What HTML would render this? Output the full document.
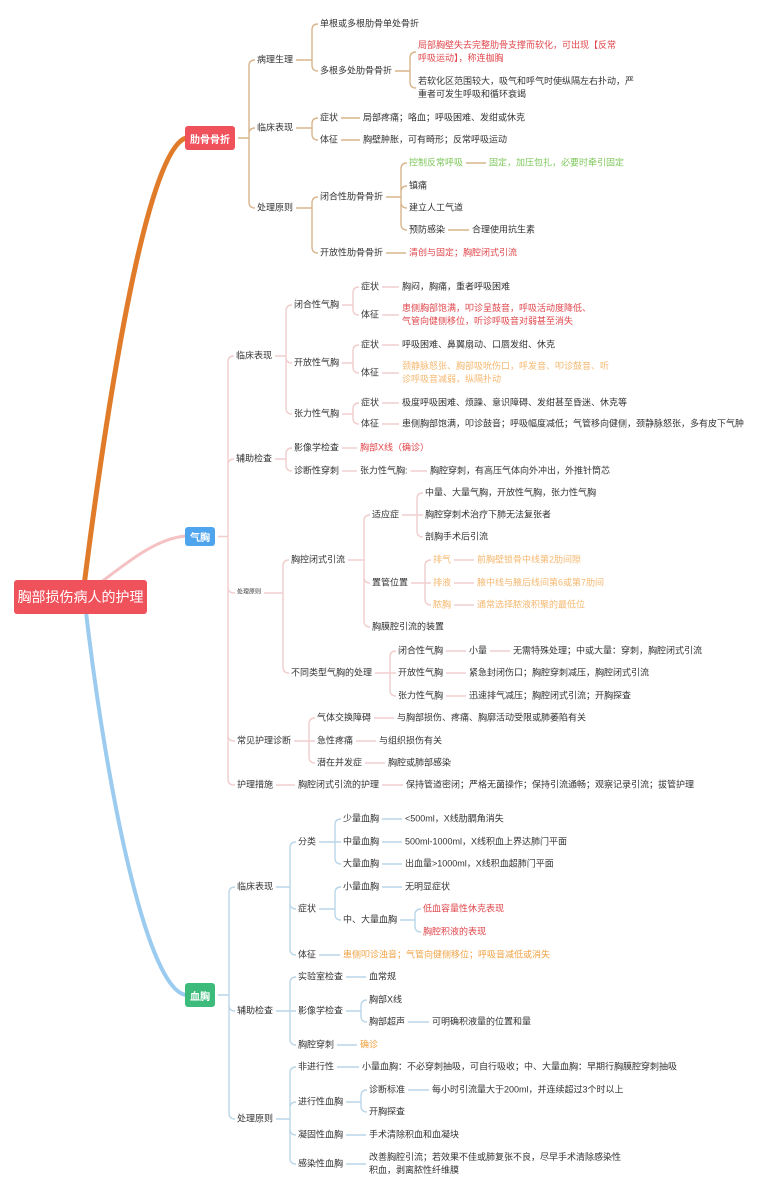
<!DOCTYPE html>
<html><head><meta charset="utf-8">
<style>
html,body{margin:0;padding:0;background:#fff;}
#c{position:relative;width:777px;height:1195px;overflow:hidden;font-family:"Liberation Sans","Noto Sans CJK SC",sans-serif;}
.n{position:absolute;transform:translateY(-50%);font-size:9px;line-height:13px;color:#333;white-space:nowrap;}
.red{color:#e0474c}.grn{color:#7ec75a}.org{color:#f0a346}.lorg{color:#f4b870}
.box{position:absolute;color:#fff;font-weight:bold;font-size:10px;display:flex;align-items:center;justify-content:center;border-radius:3px;white-space:nowrap;}
svg{position:absolute;left:0;top:0;}
</style></head><body>
<div id="c">
<svg id="s" width="777" height="1195">
<path d="M84,586 C105,420 145,150 186,138" stroke="#e07b2a" stroke-width="5" fill="none" stroke-linecap="round"/>
<path d="M100,583 C130,560 158,538 186,536" stroke="#f5c1c3" stroke-width="3" fill="none" stroke-linecap="round"/>
<path d="M86,612 C108,800 148,990 186,995" stroke="#9ccbf0" stroke-width="4" fill="none" stroke-linecap="round"/>
</svg>
<div class="box" style="left:14px;top:580px;width:133px;height:34px;background:#f0525c;font-size:14px;font-weight:normal;">胸部损伤病人的护理</div>

<div class="box" id="r0" style="left:185px;top:126px;width:50px;height:24px;background:#f0525c;">肋骨骨折</div>
<div class="n" id="r1" p="r0" style="left:257px;top:60px">病理生理</div>
<div class="n" id="r11" p="r1" style="left:320px;top:24px">单根或多根肋骨单处骨折</div>
<div class="n" id="r12" p="r1" style="left:320px;top:71px">多根多处肋骨骨折</div>
<div class="n red" id="r121" p="r12" style="left:418px;top:52px">局部胸壁失去完整肋骨支撑而软化，可出现【反常<br>呼吸运动】，称连枷胸</div>
<div class="n" id="r122" p="r12" style="left:418px;top:88px">若软化区范围较大，吸气和呼气时使纵隔左右扑动，严<br>重者可发生呼吸和循环衰竭</div>
<div class="n" id="r2" p="r0" style="left:257px;top:128px">临床表现</div>
<div class="n" id="r21" p="r2" style="left:320px;top:118px">症状</div>
<div class="n" id="r211" p="r21" style="left:363px;top:118px">局部疼痛；咯血；呼吸困难、发绀或休克</div>
<div class="n" id="r22" p="r2" style="left:320px;top:140px">体征</div>
<div class="n" id="r221" p="r22" style="left:363px;top:140px">胸壁肿胀，可有畸形；反常呼吸运动</div>
<div class="n" id="r3" p="r0" style="left:257px;top:208px">处理原则</div>
<div class="n" id="r31" p="r3" style="left:320px;top:197px">闭合性肋骨骨折</div>
<div class="n grn" id="r311" p="r31" style="left:409px;top:163px">控制反常呼吸</div>
<div class="n grn" id="r3111" p="r311" style="left:489px;top:163px">固定，加压包扎，必要时牵引固定</div>
<div class="n" id="r312" p="r31" style="left:409px;top:186px">镇痛</div>
<div class="n" id="r313" p="r31" style="left:409px;top:208px">建立人工气道</div>
<div class="n" id="r314" p="r31" style="left:409px;top:230px">预防感染</div>
<div class="n" id="r3141" p="r314" style="left:472px;top:230px">合理使用抗生素</div>
<div class="n" id="r32" p="r3" style="left:320px;top:253px">开放性肋骨骨折</div>
<div class="n red" id="r321" p="r32" style="left:409px;top:253px">清创与固定；胸腔闭式引流</div>

<div class="box" id="q0" style="left:185px;top:527px;width:30px;height:19px;background:#4fa4ee;">气胸</div>
<div class="n" id="q1" p="q0" style="left:236px;top:356px">临床表现</div>
<div class="n" id="q11" p="q1" style="left:294px;top:305px">闭合性气胸</div>
<div class="n" id="q111" p="q11" style="left:361px;top:287px">症状</div>
<div class="n" id="q1111" p="q111" style="left:402px;top:287px">胸闷，胸痛，重者呼吸困难</div>
<div class="n" id="q112" p="q11" style="left:361px;top:315px">体征</div>
<div class="n red" id="q1121" p="q112" style="left:402px;top:315px">患侧胸部饱满，叩诊呈鼓音，呼吸活动度降低、<br>气管向健侧移位，听诊呼吸音对弱甚至消失</div>
<div class="n" id="q12" p="q1" style="left:294px;top:363px">开放性气胸</div>
<div class="n" id="q121" p="q12" style="left:361px;top:345px">症状</div>
<div class="n" id="q1211" p="q121" style="left:402px;top:345px">呼吸困难、鼻翼扇动、口唇发绀、休克</div>
<div class="n" id="q122" p="q12" style="left:361px;top:373px">体征</div>
<div class="n lorg" id="q1221" p="q122" style="left:402px;top:373px">颈静脉怒张、胸部吸吮伤口，呼发音、叩诊鼓音、听<br>诊呼吸音减弱，纵隔扑动</div>
<div class="n" id="q13" p="q1" style="left:294px;top:414px">张力性气胸</div>
<div class="n" id="q131" p="q13" style="left:361px;top:403px">症状</div>
<div class="n" id="q1311" p="q131" style="left:402px;top:403px">极度呼吸困难、烦躁、意识障碍、发绀甚至昏迷、休克等</div>
<div class="n" id="q132" p="q13" style="left:361px;top:424px">体征</div>
<div class="n" id="q1321" p="q132" style="left:402px;top:424px">患侧胸部饱满，叩诊鼓音；呼吸幅度减低；气管移向健侧，颈静脉怒张，多有皮下气肿</div>
<div class="n" id="q2" p="q0" style="left:236px;top:459px">辅助检查</div>
<div class="n" id="q21" p="q2" style="left:294px;top:448px">影像学检查</div>
<div class="n red" id="q211" p="q21" style="left:360px;top:448px">胸部X线（确诊）</div>
<div class="n" id="q22" p="q2" style="left:294px;top:471px">诊断性穿刺</div>
<div class="n" id="q221" p="q22" style="left:360px;top:471px">张力性气胸:</div>
<div class="n" id="q2211" p="q221" style="left:430px;top:471px">胸腔穿刺，有高压气体向外冲出，外推针筒芯</div>
<div class="n" id="q3" p="q0" style="left:237px;top:593px;font-size:6px">处理原则</div>
<div class="n" id="q31" p="q3" style="left:291px;top:560px">胸控闭式引流</div>
<div class="n" id="q311" p="q31" style="left:372px;top:515px">适应症</div>
<div class="n" id="q3111" p="q311" style="left:425px;top:493px">中量、大量气胸，开放性气胸，张力性气胸</div>
<div class="n" id="q3112" p="q311" style="left:425px;top:515px">胸腔穿刺术治疗下肺无法复张者</div>
<div class="n" id="q3113" p="q311" style="left:425px;top:537px">剖胸手术后引流</div>
<div class="n" id="q312" p="q31" style="left:372px;top:583px">置管位置</div>
<div class="n lorg" id="q3121" p="q312" style="left:433px;top:560px">排气</div>
<div class="n lorg" id="q31211" p="q3121" style="left:477px;top:560px">前胸壁锁骨中线第2肋间隙</div>
<div class="n lorg" id="q3122" p="q312" style="left:433px;top:583px">排液</div>
<div class="n lorg" id="q31221" p="q3122" style="left:477px;top:583px">腋中线与腋后线间第6或第7肋间</div>
<div class="n lorg" id="q3123" p="q312" style="left:433px;top:605px">脓胸</div>
<div class="n lorg" id="q31231" p="q3123" style="left:477px;top:605px">通常选择脓液积聚的最低位</div>
<div class="n" id="q313" p="q31" style="left:372px;top:627px">胸膜腔引流的装置</div>
<div class="n" id="q32" p="q3" style="left:291px;top:673px">不同类型气胸的处理</div>
<div class="n" id="q321" p="q32" style="left:398px;top:651px">闭合性气胸</div>
<div class="n" id="q3211" p="q321" style="left:469px;top:651px">小量</div>
<div class="n" id="q32111" p="q3211" style="left:513px;top:651px">无需特殊处理；中或大量：穿刺，胸腔闭式引流</div>
<div class="n" id="q322" p="q32" style="left:398px;top:673px">开放性气胸</div>
<div class="n" id="q3221" p="q322" style="left:469px;top:673px">紧急封闭伤口；胸腔穿刺减压，胸腔闭式引流</div>
<div class="n" id="q323" p="q32" style="left:398px;top:696px">张力性气胸</div>
<div class="n" id="q3231" p="q323" style="left:469px;top:696px">迅速排气减压；胸腔闭式引流；开胸探查</div>
<div class="n" id="q4" p="q0" style="left:237px;top:741px">常见护理诊断</div>
<div class="n" id="q41" p="q4" style="left:317px;top:718px">气体交换障碍</div>
<div class="n" id="q411" p="q41" style="left:397px;top:718px">与胸部损伤、疼痛、胸廓活动受限或肺萎陷有关</div>
<div class="n" id="q42" p="q4" style="left:317px;top:741px">急性疼痛</div>
<div class="n" id="q421" p="q42" style="left:379px;top:741px">与组织损伤有关</div>
<div class="n" id="q43" p="q4" style="left:317px;top:763px">潜在并发症</div>
<div class="n" id="q431" p="q43" style="left:388px;top:763px">胸腔或肺部感染</div>
<div class="n" id="q5" p="q0" style="left:237px;top:785px">护理措施</div>
<div class="n" id="q51" p="q5" style="left:298px;top:785px">胸腔闭式引流的护理</div>
<div class="n" id="q511" p="q51" style="left:406px;top:785px">保持管道密闭；严格无菌操作；保持引流通畅；观察记录引流；拔管护理</div>

<div class="box" id="b0" style="left:185px;top:983px;width:30px;height:24px;background:#3dbb7b;">血胸</div>
<div class="n" id="b1" p="b0" style="left:237px;top:887px">临床表现</div>
<div class="n" id="b11" p="b1" style="left:298px;top:842px">分类</div>
<div class="n" id="b111" p="b11" style="left:343px;top:819px">少量血胸</div>
<div class="n" id="b1111" p="b111" style="left:405px;top:819px">&lt;500ml，X线肋膈角消失</div>
<div class="n" id="b112" p="b11" style="left:343px;top:842px">中量血胸</div>
<div class="n" id="b1121" p="b112" style="left:405px;top:842px">500ml-1000ml，X线积血上界达肺门平面</div>
<div class="n" id="b113" p="b11" style="left:343px;top:864px">大量血胸</div>
<div class="n" id="b1131" p="b113" style="left:405px;top:864px">出血量&gt;1000ml，X线积血超肺门平面</div>
<div class="n" id="b12" p="b1" style="left:298px;top:909px">症状</div>
<div class="n" id="b121" p="b12" style="left:343px;top:887px">小量血胸</div>
<div class="n" id="b1211" p="b121" style="left:405px;top:887px">无明显症状</div>
<div class="n" id="b122" p="b12" style="left:343px;top:920px">中、大量血胸</div>
<div class="n red" id="b1221" p="b122" style="left:423px;top:909px">低血容量性休克表现</div>
<div class="n red" id="b1222" p="b122" style="left:423px;top:932px">胸腔积液的表现</div>
<div class="n" id="b13" p="b1" style="left:298px;top:955px">体征</div>
<div class="n org" id="b131" p="b13" style="left:343px;top:955px">患侧叩诊浊音；气管向健侧移位；呼吸音减低或消失</div>
<div class="n" id="b2" p="b0" style="left:237px;top:1011px">辅助检查</div>
<div class="n" id="b21" p="b2" style="left:298px;top:977px">实验室检查</div>
<div class="n" id="b211" p="b21" style="left:369px;top:977px">血常规</div>
<div class="n" id="b22" p="b2" style="left:298px;top:1011px">影像学检查</div>
<div class="n" id="b221" p="b22" style="left:369px;top:1000px">胸部X线</div>
<div class="n" id="b222" p="b22" style="left:369px;top:1022px">胸部超声</div>
<div class="n" id="b2221" p="b222" style="left:432px;top:1022px">可明确积液量的位置和量</div>
<div class="n" id="b23" p="b2" style="left:298px;top:1045px">胸腔穿刺</div>
<div class="n org" id="b231" p="b23" style="left:360px;top:1045px">确诊</div>
<div class="n" id="b3" p="b0" style="left:237px;top:1119px">处理原则</div>
<div class="n" id="b31" p="b3" style="left:298px;top:1067px">非进行性</div>
<div class="n" id="b311" p="b31" style="left:362px;top:1067px">小量血胸：不必穿刺抽吸，可自行吸收；中、大量血胸：早期行胸膜腔穿刺抽吸</div>
<div class="n" id="b32" p="b3" style="left:298px;top:1102px">进行性血胸</div>
<div class="n" id="b321" p="b32" style="left:369px;top:1090px">诊断标准</div>
<div class="n" id="b3211" p="b321" style="left:432px;top:1090px">每小时引流量大于200ml，并连续超过3个时以上</div>
<div class="n" id="b322" p="b32" style="left:369px;top:1112px">开胸探查</div>
<div class="n" id="b33" p="b3" style="left:298px;top:1135px">凝固性血胸</div>
<div class="n" id="b331" p="b33" style="left:369px;top:1135px">手术清除积血和血凝块</div>
<div class="n" id="b34" p="b3" style="left:298px;top:1164px">感染性血胸</div>
<div class="n" id="b341" p="b34" style="left:369px;top:1164px">改善胸腔引流；若效果不佳或肺复张不良，尽早手术清除感染性<br>积血，剥离脓性纤维膜</div>
</div>
<script>
(function(){
var svg=document.getElementById('s'),c=document.getElementById('c').getBoundingClientRect();
var cols={r:'#d8b58c',q:'#f1cdcd',b:'#bad6e8'};
var groups={};
document.querySelectorAll('[p]').forEach(function(e){var p=e.getAttribute('p');(groups[p]=groups[p]||[]).push(e);});
function R(e){var r=e.getBoundingClientRect();return {l:r.left-c.left,r:r.right-c.left,y:(r.top+r.bottom)/2-c.top};}
Object.keys(groups).forEach(function(pid){
 var P=R(document.getElementById(pid)),ch=groups[pid].map(R),col=cols[pid[0]];
 var s='';
 var x0=P.r+3;
 if(ch.length==1){var C=ch[0];
   if(Math.abs(C.y-P.y)<1){s='M'+x0+','+P.y+' L'+(C.l-3)+','+C.y;}
   else{var m=(x0+C.l-3)/2;s='M'+x0+','+P.y+' C'+m+','+P.y+' '+m+','+C.y+' '+(C.l-3)+','+C.y;}
 } else {
   var minl=Math.min.apply(null,ch.map(function(a){return a.l;}));
   var sx=minl-8;if(sx<x0+4)sx=x0+4;
   s='M'+x0+','+P.y+' L'+sx+','+P.y;
   ch.forEach(function(C){var dy=C.y-P.y,r=6;
     if(Math.abs(dy)<r){s+=' M'+sx+','+P.y+' L'+(C.l-2)+','+C.y;}
     else{var sg=dy>0?1:-1;s+=' M'+sx+','+P.y+' L'+sx+','+(C.y-sg*r)+' Q'+sx+','+C.y+' '+(sx+r)+','+C.y+' L'+(C.l-2)+','+C.y;}
   });
 }
 var p=document.createElementNS('http://www.w3.org/2000/svg','path');
 p.setAttribute('d',s);p.setAttribute('stroke',col);p.setAttribute('stroke-width','1.4');p.setAttribute('fill','none');
 svg.appendChild(p);
});
})();
</script>
</body></html>
